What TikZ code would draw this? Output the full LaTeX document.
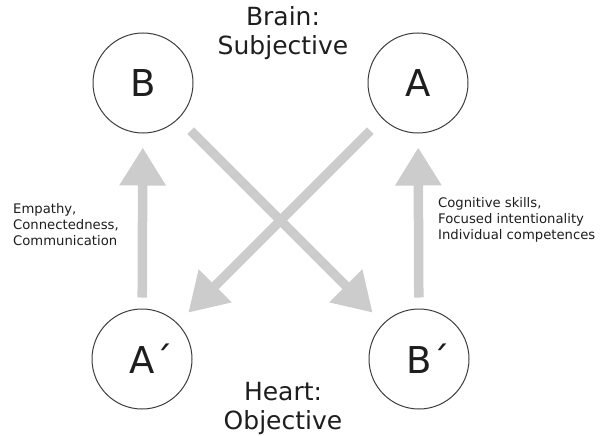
\documentclass[tikz,border=0pt]{standalone}
\usepackage{fontspec}
\setmainfont{DejaVu Sans}
\usetikzlibrary{arrows.meta}
\definecolor{arrowgray}{RGB}{204,204,204}
\definecolor{inkgray}{RGB}{30,30,30}
\definecolor{ringgray}{RGB}{60,60,60}
\begin{document}
\begin{tikzpicture}[x=1pt,y=-1pt,
  ring/.style={circle,draw=ringgray,line width=1pt,minimum size=100pt,inner sep=0pt,
    font=\fontsize{37}{40}\selectfont,text=inkgray},
  title/.style={align=center,font=\fontsize{25}{29}\selectfont,text=inkgray},
  note/.style={align=left,anchor=west,font=\fontsize{13.2}{16}\selectfont,text=inkgray,inner sep=0pt},
  bigarrow/.style={draw=arrowgray,line width=9.5pt,-{Triangle[length=38pt,width=44pt]},arrowgray}
]
\useasboundingbox (0,0) rectangle (610,436);
\node[ring] (B) at (143,83) {B};
\node[ring] (A) at (418,83) {A};
\node[ring] (Ap) at (142,359) {A\rlap{´}};
\node[ring] (Bp) at (419,359) {B\rlap{´}};
\node[title] (brain) at (283,33) {Brain:\\Subjective};
\node[title] (heart) at (283,408) {Heart:\\Objective};
\node[note] (left) at (13,225) {Empathy,\\Connectedness,\\Communication};
\node[note] (right) at (438,220) {Cognitive skills,\\Focused intentionality\\Individual competences};
\draw[bigarrow,shorten <=11pt,shorten >=14pt] (Ap) -- (B);
\draw[bigarrow,shorten <=11pt,shorten >=14pt] (Bp) -- (A);
\draw[bigarrow,shorten <=17pt,shorten >=15pt] (B) -- (Bp);
\draw[bigarrow,shorten <=17pt,shorten >=15pt] (A) -- (Ap);
\end{tikzpicture}
\end{document}
